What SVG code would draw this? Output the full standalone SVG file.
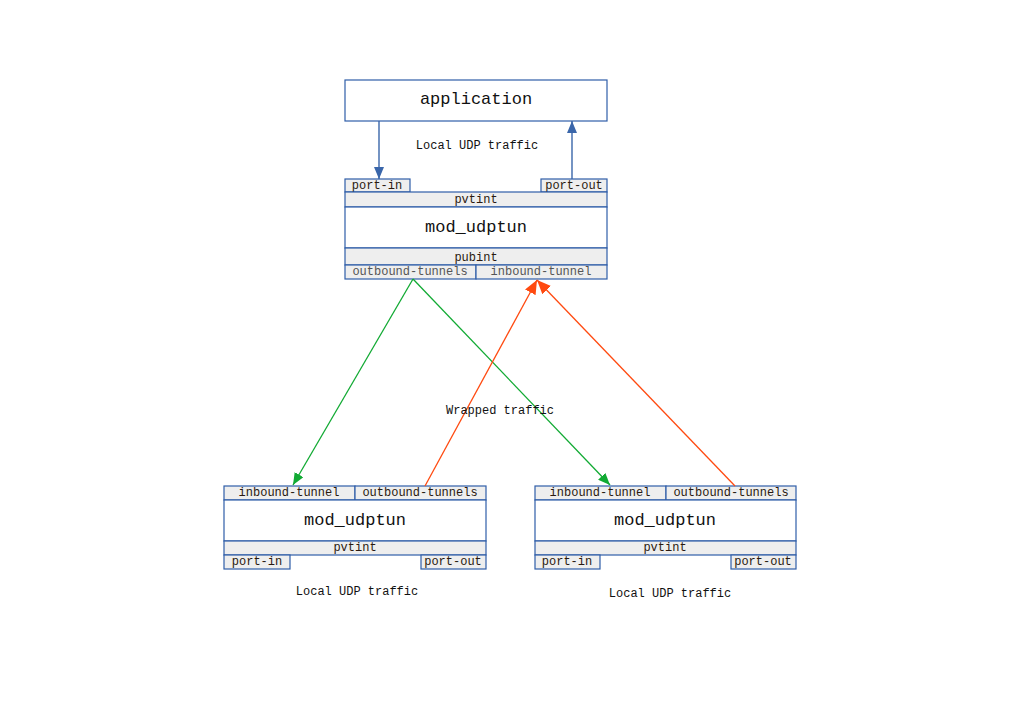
<svg xmlns="http://www.w3.org/2000/svg" width="1024" height="724" viewBox="0 0 1024 724">
<defs>
<style>
text{font-family:"Liberation Mono","DejaVu Sans Mono",monospace;text-anchor:middle}
.box{fill:#fff;stroke:#2f5ea8;stroke-width:1.2}
.bar{fill:#eeeeee;stroke:#2f5ea8;stroke-width:1.2}
.big{font-size:17px;fill:#111}
.sm{font-size:12px;fill:#2a1a10}
.gr{font-size:12px;fill:#555}
.lbl{font-size:12px;fill:#111}
.blue{stroke:#3a66aa;stroke-width:1.4;fill:none}
.green{stroke:#11aa33;stroke-width:1.3;fill:none}
.orange{stroke:#ff4a10;stroke-width:1.3;fill:none}
</style>
<marker id="ab" viewBox="0 0 12 10" refX="12" refY="5" markerWidth="12" markerHeight="10" markerUnits="userSpaceOnUse" orient="auto"><path d="M0,0L12,5L0,10z" fill="#3a66aa"/></marker>
<marker id="ag" viewBox="0 0 12 10" refX="12" refY="5" markerWidth="12" markerHeight="10" markerUnits="userSpaceOnUse" orient="auto"><path d="M0,0L12,5L0,10z" fill="#11aa33"/></marker>
<marker id="ao" viewBox="0 0 14 12" refX="14" refY="6" markerWidth="14" markerHeight="12" markerUnits="userSpaceOnUse" orient="auto"><path d="M0,0L14,6L0,12z" fill="#ff4a10"/></marker>
</defs>
<rect width="1024" height="724" fill="#fff"/>
<g id="application">
<rect class="box" x="345" y="80" width="262" height="41"/>
<text class="big" x="476" y="104">application</text>
</g>
<g id="mod_top">
<rect class="bar" x="345" y="179" width="65" height="13"/>
<text class="sm" x="377" y="189">port-in</text>
<rect class="bar" x="541" y="179" width="66" height="13"/>
<text class="sm" x="574" y="189">port-out</text>
<rect class="bar" x="345" y="192" width="262" height="15"/>
<text class="sm" x="476" y="203">pvtint</text>
<rect class="box" x="345" y="207" width="262" height="41"/>
<text class="big" x="476" y="232">mod_udptun</text>
<rect class="bar" x="345" y="248" width="262" height="17"/>
<text class="sm" x="476" y="261">pubint</text>
<rect class="bar" x="345" y="265" width="131" height="14"/>
<text class="gr" x="410" y="275">outbound-tunnels</text>
<rect class="bar" x="476" y="265" width="131" height="14"/>
<text class="gr" x="541" y="275">inbound-tunnel</text>
</g>
<g id="mod_left">
<rect class="bar" x="224" y="486" width="131" height="14"/>
<text class="sm" x="289" y="496">inbound-tunnel</text>
<rect class="bar" x="355" y="486" width="131" height="14"/>
<text class="sm" x="420" y="496">outbound-tunnels</text>
<rect class="box" x="224" y="500" width="262" height="41"/>
<text class="big" x="355" y="525">mod_udptun</text>
<rect class="bar" x="224" y="541" width="262" height="14"/>
<text class="sm" x="355" y="551">pvtint</text>
<rect class="bar" x="224" y="555" width="66" height="14"/>
<text class="sm" x="257" y="565">port-in</text>
<rect class="bar" x="421" y="555" width="65" height="14"/>
<text class="sm" x="453" y="565">port-out</text>
<text class="lbl" x="357" y="595">Local UDP traffic</text>
</g>
<g id="mod_right">
<rect class="bar" x="535" y="486" width="131" height="14"/>
<text class="sm" x="600" y="496">inbound-tunnel</text>
<rect class="bar" x="666" y="486" width="130" height="14"/>
<text class="sm" x="731" y="496">outbound-tunnels</text>
<rect class="box" x="535" y="500" width="261" height="41"/>
<text class="big" x="665" y="525">mod_udptun</text>
<rect class="bar" x="535" y="541" width="261" height="14"/>
<text class="sm" x="665" y="551">pvtint</text>
<rect class="bar" x="535" y="555" width="65" height="14"/>
<text class="sm" x="567" y="565">port-in</text>
<rect class="bar" x="731" y="555" width="65" height="14"/>
<text class="sm" x="763" y="565">port-out</text>
<text class="lbl" x="670" y="597">Local UDP traffic</text>
</g>
<g id="connectors">
<line class="blue" x1="379" y1="121" x2="379" y2="179" marker-end="url(#ab)"/>
<line class="blue" x1="572" y1="179" x2="572" y2="121" marker-end="url(#ab)"/>
<text class="lbl" x="477" y="149">Local UDP traffic</text>
<line class="green" x1="413" y1="279" x2="293" y2="485" marker-end="url(#ag)"/>
<line class="green" x1="413" y1="279" x2="610" y2="485" marker-end="url(#ag)"/>
<line class="orange" x1="425" y1="486" x2="537" y2="280" marker-end="url(#ao)"/>
<line class="orange" x1="735" y1="486" x2="537" y2="280" marker-end="url(#ao)"/>
<text class="lbl" x="500" y="414">Wrapped traffic</text>
</g>
</svg>
